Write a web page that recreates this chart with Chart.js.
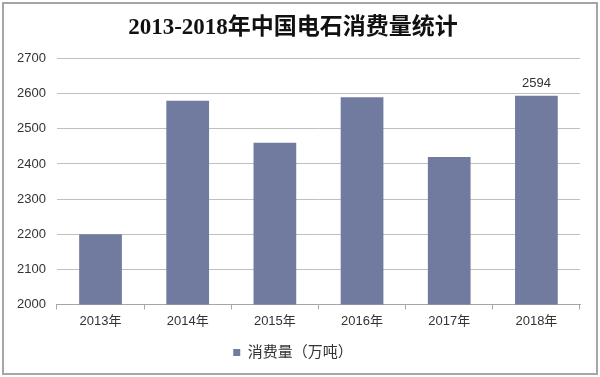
<!DOCTYPE html>
<html>
<head>
<meta charset="utf-8">
<script src="https://cdn.jsdelivr.net/npm/chart.js@4"></script>
<style>
  body { margin: 0; background: #fff; }
  #wrap { position: relative; width: 600px; height: 377px; }
  #frame { position: absolute; left: 2px; top: 2px; width: 596px; height: 373px;
           box-sizing: border-box; border: 2px solid #a6a6a6; pointer-events: none; }
</style>
</head>
<body>
<div id="wrap">
  <canvas id="chart" width="600" height="377"></canvas>
  <div id="frame"></div>
</div>
<script>
// data
const years = ['2013年', '2014年', '2015年', '2016年', '2017年', '2018年'];
const consumption = [2200, 2580, 2460, 2590, 2420, 2594];
const labelled = [false, false, false, false, false, true];
const yMin = 2000, yMax = 2700, yStep = 100;

// value label above the bars that carry one
const barLabels = {
    id: 'barLabels',
    afterDatasetsDraw(chart) {
        const ctx = chart.ctx;
        const meta = chart.getDatasetMeta(0);
        ctx.save();
        ctx.font = '13px "Liberation Sans", Arial, sans-serif';
        ctx.fillStyle = '#333';
        ctx.textAlign = 'center';
        ctx.textBaseline = 'bottom';
        meta.data.forEach((bar, i) => {
            if (!labelled[i]) return;
            ctx.fillText(String(consumption[i]), bar.x, bar.y - 6);
        });
        ctx.restore();
    }
};

const ctx = document.getElementById('chart').getContext('2d');
new Chart(ctx, {
    type: 'bar',
    data: {
        labels: years,
        datasets: [{
            label: '消费量（万吨）',
            data: consumption,
            backgroundColor: '#717ba0',
            borderWidth: 0,
            categoryPercentage: 1,
            barPercentage: 0.49
        }]
    },
    options: {
        responsive: false,
        animation: false,
        layout: { padding: { left: 6, right: 20, top: 6, bottom: 7 } },
        plugins: {
            title: {
                display: true,
                text: '2013-2018年中国电石消费量统计',
                color: '#111',
                font: { family: '"Liberation Serif", "Noto Sans CJK SC", serif', size: 23, weight: 'bold' },
                padding: { top: 8, bottom: 17 }
            },
            legend: {
                position: 'bottom',
                labels: {
                    boxWidth: 7,
                    boxHeight: 7,
                    color: '#333',
                    font: { family: '"Liberation Sans", "Noto Sans CJK SC", sans-serif', size: 15 },
                    padding: 12
                }
            },
            tooltip: { enabled: false }
        },
        scales: {
            x: {
                grid: { display: true, drawOnChartArea: false, drawTicks: true, tickLength: 5, color: '#a6a6a6' },
                border: { display: true, color: '#a6a6a6' },
                ticks: {
                    color: '#333',
                    padding: 4,
                    font: { family: '"Liberation Sans", "Noto Sans CJK SC", sans-serif', size: 13 }
                }
            },
            y: {
                min: yMin,
                max: yMax,
                grid: { color: '#bfbfbf', drawTicks: false },
                border: { display: false },
                ticks: {
                    stepSize: yStep,
                    color: '#333',
                    padding: 11,
                    callback: v => String(v),
                    font: { family: '"Liberation Sans", Arial, sans-serif', size: 13 }
                }
            }
        }
    },
    plugins: [barLabels]
});
</script>
</body>
</html>
